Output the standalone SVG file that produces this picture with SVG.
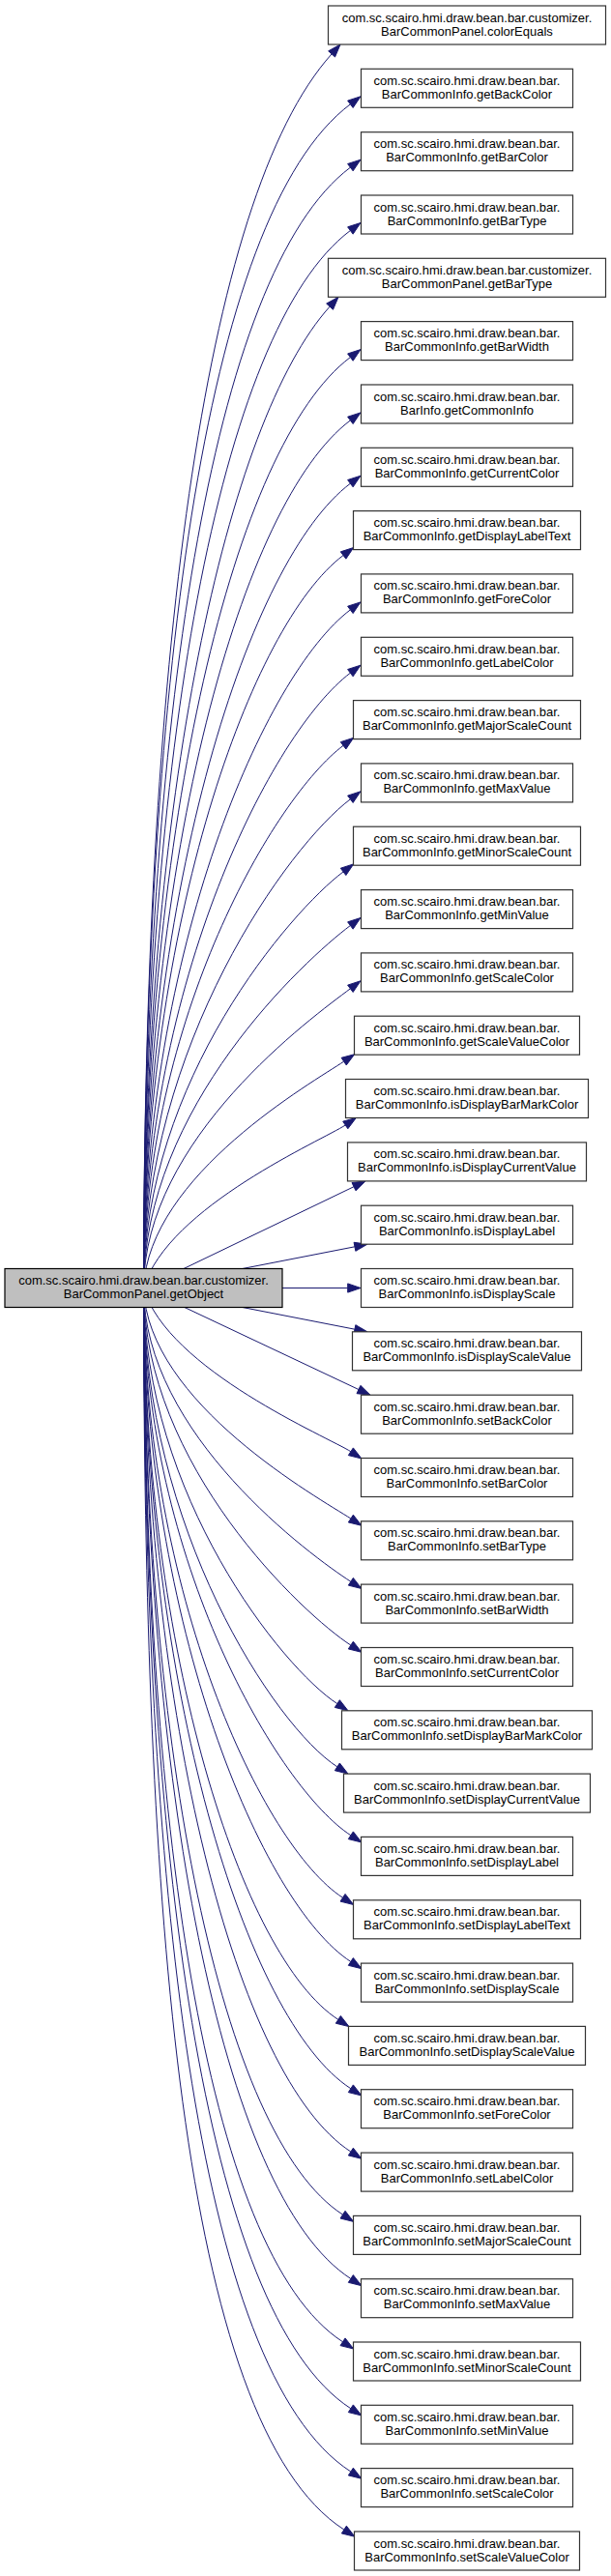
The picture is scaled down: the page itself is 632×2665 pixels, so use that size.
<svg xmlns="http://www.w3.org/2000/svg" width="632" height="2665" viewBox="0 0 632 2665">
<style>
.e{fill:none;stroke:#191970;stroke-width:1}
.a{fill:#191970;stroke:#191970;stroke-width:1}
.n rect{fill:#ffffff;stroke:#333333;stroke-width:1.2}
.m rect{fill:#bfbfbf;stroke:#000000;stroke-width:1.2}
text{font-family:"Liberation Sans",Arial,sans-serif;font-size:13px;fill:#000000;text-anchor:middle}
</style>
<rect width="632" height="2665" fill="#ffffff"/>
<g id="edges">
<path class="e" d="M148.5,1332.5 C149,694.19 209,204.82 343.1,55.88"/><polygon class="a" points="352,46 346.52,58.96 339.68,52.8"/>
<path class="e" d="M148.5,1332.5 C149,720.15 208.83,223.51 362.38,107.8"/><polygon class="a" points="373,99.8 365.15,111.47 359.61,104.13"/>
<path class="e" d="M148.5,1332.5 C149,752.85 217.03,282.73 362.38,173.2"/><polygon class="a" points="373,165.2 365.15,176.87 359.61,169.53"/>
<path class="e" d="M148.5,1332.5 C149,785.5 225.21,341.86 362.38,238.5"/><polygon class="a" points="373,230.5 365.15,242.17 359.61,234.83"/>
<path class="e" d="M148.5,1332.5 C149,824.84 234.44,435.63 341.1,317.18"/><polygon class="a" points="350,307.3 344.52,320.26 337.68,314.1"/>
<path class="e" d="M148.5,1332.5 C149,851.05 241.65,460.57 362.38,369.6"/><polygon class="a" points="373,361.6 365.15,373.27 359.61,365.93"/>
<path class="e" d="M148.5,1332.5 C149,883.7 249.84,519.71 362.38,434.9"/><polygon class="a" points="373,426.9 365.15,438.57 359.61,431.23"/>
<path class="e" d="M148.5,1332.5 C149,916.35 258.03,578.84 362.38,500.2"/><polygon class="a" points="373,492.2 365.15,503.87 359.61,496.53"/>
<path class="e" d="M148.5,1332.5 C149,953.5 260.04,646.12 355.08,574.5"/><polygon class="a" points="365.7,566.5 357.85,578.17 352.31,570.83"/>
<path class="e" d="M148.5,1332.5 C149,981.7 274.41,697.19 362.38,630.9"/><polygon class="a" points="373,622.9 365.15,634.57 359.61,627.23"/>
<path class="e" d="M148.5,1332.5 C149,1014.35 282.6,756.32 362.38,696.2"/><polygon class="a" points="373,688.2 365.15,699.87 359.61,692.53"/>
<path class="e" d="M148.5,1332.5 C149,1051.9 284.72,824.32 355.08,771.3"/><polygon class="a" points="365.7,763.3 357.85,774.97 352.31,767.63"/>
<path class="e" d="M148.5,1332.5 C149,1079.65 298.98,874.58 362.38,826.8"/><polygon class="a" points="373,818.8 365.15,830.47 359.61,823.13"/>
<path class="e" d="M148.5,1332.5 C149,1117.2 301.09,942.58 355.08,901.9"/><polygon class="a" points="365.7,893.9 357.85,905.57 352.31,898.23"/>
<path class="e" d="M148.5,1332.5 C149,1145 315.36,992.93 362.38,957.5"/><polygon class="a" points="373,949.5 365.15,961.17 359.61,953.83"/>
<path class="e" d="M148.5,1332.5 C149,1177.65 323.55,1052.06 362.38,1022.8"/><polygon class="a" points="373,1014.8 365.15,1026.47 359.61,1019.13"/>
<path class="e" d="M148.5,1332.5 C153.7,1215.32 325.17,1118.71 355.67,1098.14"/><polygon class="a" points="366.7,1090.7 358.24,1101.95 353.1,1094.33"/>
<path class="e" d="M148.5,1332.5 C173.4,1248.22 335.33,1178.74 357.27,1163.94"/><polygon class="a" points="368.3,1156.5 359.84,1167.75 354.7,1160.13"/>
<path class="e" d="M148.5,1332.5 L366,1227.7"/><polygon class="a" points="378,1221.9 368,1231.84 364,1223.56"/>
<path class="e" d="M148.5,1332.5 L366.95,1289.8"/><polygon class="a" points="380,1287.2 367.83,1294.31 366.07,1285.29"/>
<path class="e" d="M292,1332.5 L359.7,1332.5"/><polygon class="a" points="373,1332.5 359.7,1337.1 359.7,1327.9"/>
<path class="e" d="M148.5,1332.5 L366.95,1375.2"/><polygon class="a" points="380,1377.8 366.07,1379.71 367.83,1370.69"/>
<path class="e" d="M148.5,1332.5 L370.97,1437.52"/><polygon class="a" points="383,1443.2 369.01,1441.68 372.93,1433.36"/>
<path class="e" d="M148.5,1332.5 C173.2,1417.13 340.56,1487.29 362.85,1501.76"/><polygon class="a" points="374,1509 360.34,1505.62 365.36,1497.9"/>
<path class="e" d="M148.5,1332.5 C152.4,1451.78 331.44,1550.66 362.85,1571.06"/><polygon class="a" points="374,1578.3 360.34,1574.92 365.36,1567.2"/>
<path class="e" d="M148.5,1332.5 C149,1484.38 322.85,1610.29 362.85,1636.26"/><polygon class="a" points="374,1643.5 360.34,1640.12 365.36,1632.4"/>
<path class="e" d="M148.5,1332.5 C149,1517.28 314.19,1670.46 362.85,1702.06"/><polygon class="a" points="374,1709.3 360.34,1705.92 365.36,1698.2"/>
<path class="e" d="M148.5,1332.5 C149,1547.53 292.22,1725.79 348.85,1762.56"/><polygon class="a" points="360,1769.8 346.34,1766.42 351.36,1758.7"/>
<path class="e" d="M148.5,1332.5 C149,1580.18 283.62,1785.51 348.85,1827.86"/><polygon class="a" points="360,1835.1 346.34,1831.72 351.36,1824"/>
<path class="e" d="M148.5,1332.5 C149,1615.63 288.28,1850.34 362.85,1898.76"/><polygon class="a" points="374,1906 360.34,1902.62 365.36,1894.9"/>
<path class="e" d="M148.5,1332.5 C149,1647.88 271.49,1909.33 354.55,1963.26"/><polygon class="a" points="365.7,1970.5 352.04,1967.12 357.06,1959.4"/>
<path class="e" d="M148.5,1332.5 C149,1680.98 271.07,1969.87 362.85,2029.46"/><polygon class="a" points="374,2036.7 360.34,2033.32 365.36,2025.6"/>
<path class="e" d="M148.5,1332.5 C149,1710.93 250.19,2024.65 349.85,2089.36"/><polygon class="a" points="361,2096.6 347.34,2093.22 352.36,2085.5"/>
<path class="e" d="M148.5,1332.5 C149,1746.63 253.78,2089.94 362.85,2160.76"/><polygon class="a" points="374,2168 360.34,2164.62 365.36,2156.9"/>
<path class="e" d="M148.5,1332.5 C149,1779.28 245.19,2149.66 362.85,2226.06"/><polygon class="a" points="374,2233.3 360.34,2229.92 365.36,2222.2"/>
<path class="e" d="M148.5,1332.5 C149,1811.83 228.31,2209.19 354.55,2291.16"/><polygon class="a" points="365.7,2298.4 352.04,2295.02 357.06,2287.3"/>
<path class="e" d="M148.5,1332.5 C149,1844.98 227.88,2269.83 362.85,2357.46"/><polygon class="a" points="374,2364.7 360.34,2361.32 365.36,2353.6"/>
<path class="e" d="M148.5,1332.5 C149,1877.63 210.98,2329.54 354.55,2422.76"/><polygon class="a" points="365.7,2430 352.04,2426.62 357.06,2418.9"/>
<path class="e" d="M148.5,1332.5 C149,1912.13 210.2,2392.64 362.85,2491.76"/><polygon class="a" points="374,2499 360.34,2495.62 365.36,2487.9"/>
<path class="e" d="M148.5,1332.5 C149,1944.78 201.6,2452.36 362.85,2557.06"/><polygon class="a" points="374,2564.3 360.34,2560.92 365.36,2553.2"/>
<path class="e" d="M148.5,1332.5 C149,1974.78 186.7,2507.23 355.85,2617.06"/><polygon class="a" points="367,2624.3 353.34,2620.92 358.36,2613.2"/>
</g>
<g id="main" class="m"><rect x="5" y="1312.5" width="287" height="40"/><text x="148.5" y="1329">com.sc.scairo.hmi.draw.bean.bar.customizer.</text><text x="148.5" y="1343">BarCommonPanel.getObject</text></g>
<g id="n0" class="n"><rect x="339.5" y="6" width="287" height="40"/><text x="483" y="22.5">com.sc.scairo.hmi.draw.bean.bar.customizer.</text><text x="483" y="36.5">BarCommonPanel.colorEquals</text></g>
<g id="n1" class="n"><rect x="373.5" y="71.3" width="219" height="40"/><text x="483" y="87.8">com.sc.scairo.hmi.draw.bean.bar.</text><text x="483" y="101.8">BarCommonInfo.getBackColor</text></g>
<g id="n2" class="n"><rect x="373.5" y="136.7" width="219" height="40"/><text x="483" y="153.2">com.sc.scairo.hmi.draw.bean.bar.</text><text x="483" y="167.2">BarCommonInfo.getBarColor</text></g>
<g id="n3" class="n"><rect x="373.5" y="202" width="219" height="40"/><text x="483" y="218.5">com.sc.scairo.hmi.draw.bean.bar.</text><text x="483" y="232.5">BarCommonInfo.getBarType</text></g>
<g id="n4" class="n"><rect x="339.5" y="267.3" width="287" height="40"/><text x="483" y="283.8">com.sc.scairo.hmi.draw.bean.bar.customizer.</text><text x="483" y="297.8">BarCommonPanel.getBarType</text></g>
<g id="n5" class="n"><rect x="373.5" y="332.6" width="219" height="40"/><text x="483" y="349.1">com.sc.scairo.hmi.draw.bean.bar.</text><text x="483" y="363.1">BarCommonInfo.getBarWidth</text></g>
<g id="n6" class="n"><rect x="373.5" y="398" width="219" height="40"/><text x="483" y="414.5">com.sc.scairo.hmi.draw.bean.bar.</text><text x="483" y="428.5">BarInfo.getCommonInfo</text></g>
<g id="n7" class="n"><rect x="373.5" y="463.3" width="219" height="40"/><text x="483" y="479.8">com.sc.scairo.hmi.draw.bean.bar.</text><text x="483" y="493.8">BarCommonInfo.getCurrentColor</text></g>
<g id="n8" class="n"><rect x="365.5" y="528.6" width="235" height="40"/><text x="483" y="545.1">com.sc.scairo.hmi.draw.bean.bar.</text><text x="483" y="559.1">BarCommonInfo.getDisplayLabelText</text></g>
<g id="n9" class="n"><rect x="373.5" y="593.9" width="219" height="40"/><text x="483" y="610.4">com.sc.scairo.hmi.draw.bean.bar.</text><text x="483" y="624.4">BarCommonInfo.getForeColor</text></g>
<g id="n10" class="n"><rect x="373.5" y="659.3" width="219" height="40"/><text x="483" y="675.8">com.sc.scairo.hmi.draw.bean.bar.</text><text x="483" y="689.8">BarCommonInfo.getLabelColor</text></g>
<g id="n11" class="n"><rect x="365.5" y="724.6" width="235" height="40"/><text x="483" y="741.1">com.sc.scairo.hmi.draw.bean.bar.</text><text x="483" y="755.1">BarCommonInfo.getMajorScaleCount</text></g>
<g id="n12" class="n"><rect x="373.5" y="789.9" width="219" height="40"/><text x="483" y="806.4">com.sc.scairo.hmi.draw.bean.bar.</text><text x="483" y="820.4">BarCommonInfo.getMaxValue</text></g>
<g id="n13" class="n"><rect x="365.5" y="855.2" width="235" height="40"/><text x="483" y="871.7">com.sc.scairo.hmi.draw.bean.bar.</text><text x="483" y="885.7">BarCommonInfo.getMinorScaleCount</text></g>
<g id="n14" class="n"><rect x="373.5" y="920.6" width="219" height="40"/><text x="483" y="937.1">com.sc.scairo.hmi.draw.bean.bar.</text><text x="483" y="951.1">BarCommonInfo.getMinValue</text></g>
<g id="n15" class="n"><rect x="373.5" y="985.9" width="219" height="40"/><text x="483" y="1002.4">com.sc.scairo.hmi.draw.bean.bar.</text><text x="483" y="1016.4">BarCommonInfo.getScaleColor</text></g>
<g id="n16" class="n"><rect x="366.5" y="1051.2" width="233" height="40"/><text x="483" y="1067.7">com.sc.scairo.hmi.draw.bean.bar.</text><text x="483" y="1081.7">BarCommonInfo.getScaleValueColor</text></g>
<g id="n17" class="n"><rect x="357.5" y="1116.5" width="251" height="40"/><text x="483" y="1133">com.sc.scairo.hmi.draw.bean.bar.</text><text x="483" y="1147">BarCommonInfo.isDisplayBarMarkColor</text></g>
<g id="n18" class="n"><rect x="359.5" y="1181.9" width="247" height="40"/><text x="483" y="1198.4">com.sc.scairo.hmi.draw.bean.bar.</text><text x="483" y="1212.4">BarCommonInfo.isDisplayCurrentValue</text></g>
<g id="n19" class="n"><rect x="373.5" y="1247.2" width="219" height="40"/><text x="483" y="1263.7">com.sc.scairo.hmi.draw.bean.bar.</text><text x="483" y="1277.7">BarCommonInfo.isDisplayLabel</text></g>
<g id="n20" class="n"><rect x="373.5" y="1312.5" width="219" height="40"/><text x="483" y="1329">com.sc.scairo.hmi.draw.bean.bar.</text><text x="483" y="1343">BarCommonInfo.isDisplayScale</text></g>
<g id="n21" class="n"><rect x="364.5" y="1377.8" width="237" height="40"/><text x="483" y="1394.3">com.sc.scairo.hmi.draw.bean.bar.</text><text x="483" y="1408.3">BarCommonInfo.isDisplayScaleValue</text></g>
<g id="n22" class="n"><rect x="373.5" y="1443.2" width="219" height="40"/><text x="483" y="1459.7">com.sc.scairo.hmi.draw.bean.bar.</text><text x="483" y="1473.7">BarCommonInfo.setBackColor</text></g>
<g id="n23" class="n"><rect x="373.5" y="1508.5" width="219" height="40"/><text x="483" y="1525">com.sc.scairo.hmi.draw.bean.bar.</text><text x="483" y="1539">BarCommonInfo.setBarColor</text></g>
<g id="n24" class="n"><rect x="373.5" y="1573.8" width="219" height="40"/><text x="483" y="1590.3">com.sc.scairo.hmi.draw.bean.bar.</text><text x="483" y="1604.3">BarCommonInfo.setBarType</text></g>
<g id="n25" class="n"><rect x="373.5" y="1639.1" width="219" height="40"/><text x="483" y="1655.6">com.sc.scairo.hmi.draw.bean.bar.</text><text x="483" y="1669.6">BarCommonInfo.setBarWidth</text></g>
<g id="n26" class="n"><rect x="373.5" y="1704.5" width="219" height="40"/><text x="483" y="1721">com.sc.scairo.hmi.draw.bean.bar.</text><text x="483" y="1735">BarCommonInfo.setCurrentColor</text></g>
<g id="n27" class="n"><rect x="353.5" y="1769.8" width="259" height="40"/><text x="483" y="1786.3">com.sc.scairo.hmi.draw.bean.bar.</text><text x="483" y="1800.3">BarCommonInfo.setDisplayBarMarkColor</text></g>
<g id="n28" class="n"><rect x="355.5" y="1835.1" width="255" height="40"/><text x="483" y="1851.6">com.sc.scairo.hmi.draw.bean.bar.</text><text x="483" y="1865.6">BarCommonInfo.setDisplayCurrentValue</text></g>
<g id="n29" class="n"><rect x="373.5" y="1900.4" width="219" height="40"/><text x="483" y="1916.9">com.sc.scairo.hmi.draw.bean.bar.</text><text x="483" y="1930.9">BarCommonInfo.setDisplayLabel</text></g>
<g id="n30" class="n"><rect x="365.5" y="1965.8" width="235" height="40"/><text x="483" y="1982.3">com.sc.scairo.hmi.draw.bean.bar.</text><text x="483" y="1996.3">BarCommonInfo.setDisplayLabelText</text></g>
<g id="n31" class="n"><rect x="373.5" y="2031.1" width="219" height="40"/><text x="483" y="2047.6">com.sc.scairo.hmi.draw.bean.bar.</text><text x="483" y="2061.6">BarCommonInfo.setDisplayScale</text></g>
<g id="n32" class="n"><rect x="360.5" y="2096.4" width="245" height="40"/><text x="483" y="2112.9">com.sc.scairo.hmi.draw.bean.bar.</text><text x="483" y="2126.9">BarCommonInfo.setDisplayScaleValue</text></g>
<g id="n33" class="n"><rect x="373.5" y="2161.7" width="219" height="40"/><text x="483" y="2178.2">com.sc.scairo.hmi.draw.bean.bar.</text><text x="483" y="2192.2">BarCommonInfo.setForeColor</text></g>
<g id="n34" class="n"><rect x="373.5" y="2227.1" width="219" height="40"/><text x="483" y="2243.6">com.sc.scairo.hmi.draw.bean.bar.</text><text x="483" y="2257.6">BarCommonInfo.setLabelColor</text></g>
<g id="n35" class="n"><rect x="365.5" y="2292.4" width="235" height="40"/><text x="483" y="2308.9">com.sc.scairo.hmi.draw.bean.bar.</text><text x="483" y="2322.9">BarCommonInfo.setMajorScaleCount</text></g>
<g id="n36" class="n"><rect x="373.5" y="2357.7" width="219" height="40"/><text x="483" y="2374.2">com.sc.scairo.hmi.draw.bean.bar.</text><text x="483" y="2388.2">BarCommonInfo.setMaxValue</text></g>
<g id="n37" class="n"><rect x="365.5" y="2423" width="235" height="40"/><text x="483" y="2439.5">com.sc.scairo.hmi.draw.bean.bar.</text><text x="483" y="2453.5">BarCommonInfo.setMinorScaleCount</text></g>
<g id="n38" class="n"><rect x="373.5" y="2488.3" width="219" height="40"/><text x="483" y="2504.8">com.sc.scairo.hmi.draw.bean.bar.</text><text x="483" y="2518.8">BarCommonInfo.setMinValue</text></g>
<g id="n39" class="n"><rect x="373.5" y="2553.6" width="219" height="40"/><text x="483" y="2570.1">com.sc.scairo.hmi.draw.bean.bar.</text><text x="483" y="2584.1">BarCommonInfo.setScaleColor</text></g>
<g id="n40" class="n"><rect x="366.5" y="2619" width="233" height="40"/><text x="483" y="2635.5">com.sc.scairo.hmi.draw.bean.bar.</text><text x="483" y="2649.5">BarCommonInfo.setScaleValueColor</text></g>
</svg>
